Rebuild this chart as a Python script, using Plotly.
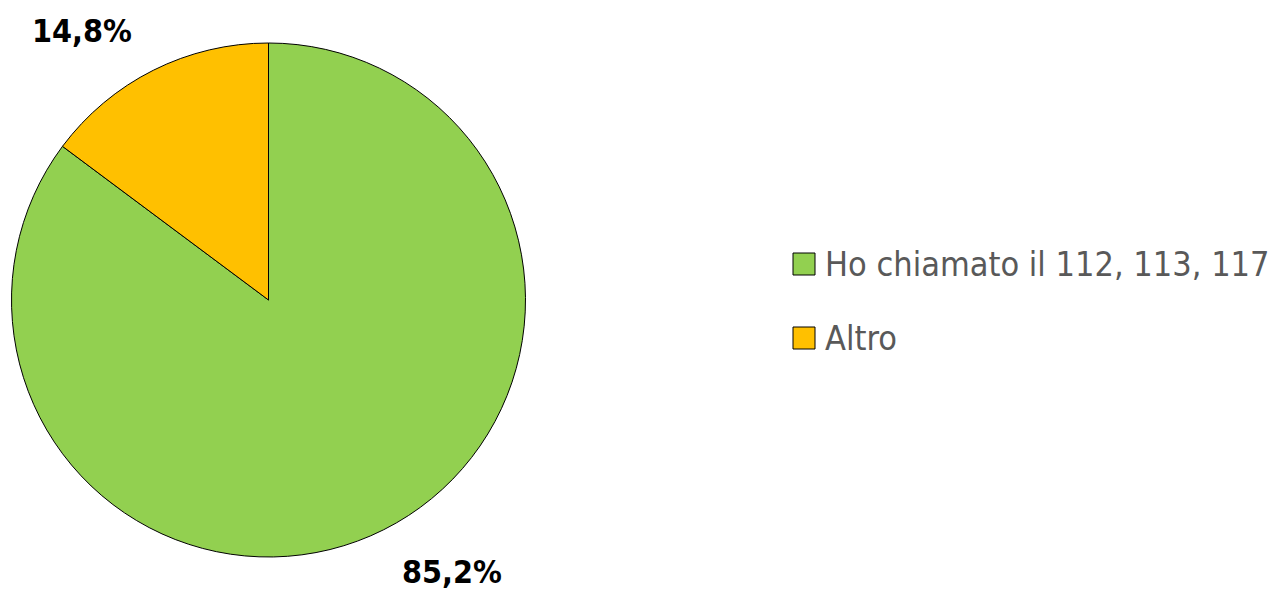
import plotly.graph_objects as go

# Survey answers and their shares (%)
labels = ["Ho chiamato il 112, 113, 117", "Altro"]
values = [85.2, 14.8]
colors = ["#92D050", "#FFC000"]

# Where each percentage label sits (paper coords)
label_pos = [(452 / 1281, 1 - 572 / 595), (82 / 1281, 1 - 31 / 595)]

W, H = 1281, 595
FONT = "Liberation Sans Narrow, Arial Narrow, DejaVu Sans Condensed, sans-serif"

fig = go.Figure()
fig.add_trace(go.Pie(
    labels=labels,
    values=values,
    sort=False,
    direction="clockwise",
    rotation=0,
    marker=dict(colors=colors, line=dict(color="#000000", width=1)),
    textinfo="none",
    hoverinfo="label+percent",
    showlegend=False,
    domain=dict(x=[11 / W, 526 / W], y=[1 - 557 / H, 1 - 43 / H]),
))

def fmt(v):
    return f"{v:.1f}".replace(".", ",") + "%"

for v, (px, py) in zip(values, label_pos):
    fig.add_annotation(
        x=px, y=py, xref="paper", yref="paper",
        text=f"<b>{fmt(v)}</b>", showarrow=False,
        xanchor="center", yanchor="middle",
        font=dict(family=FONT, size=32, color="#000000"),
    )

# Legend: coloured squares with labels
leg_x0 = 793
leg_y = [264, 338]
box = 22
for lab, col, yc in zip(labels, colors, leg_y):
    fig.add_shape(
        type="rect", xref="paper", yref="paper",
        x0=leg_x0 / W, x1=(leg_x0 + box) / W,
        y0=1 - (yc + box / 2) / H, y1=1 - (yc - box / 2) / H,
        fillcolor=col, line=dict(color="#000000", width=1),
    )
    fig.add_annotation(
        x=(leg_x0 + box + 8) / W, y=1 - yc / H, xref="paper", yref="paper",
        text=lab, showarrow=False, xanchor="left", yanchor="middle",
        font=dict(family=FONT, size=34, color="#595959"),
    )

fig.update_layout(
    width=W, height=H,
    margin=dict(l=0, r=0, t=0, b=0),
    paper_bgcolor="#FFFFFF",
    plot_bgcolor="#FFFFFF",
)

fig.write_html("out.html")
